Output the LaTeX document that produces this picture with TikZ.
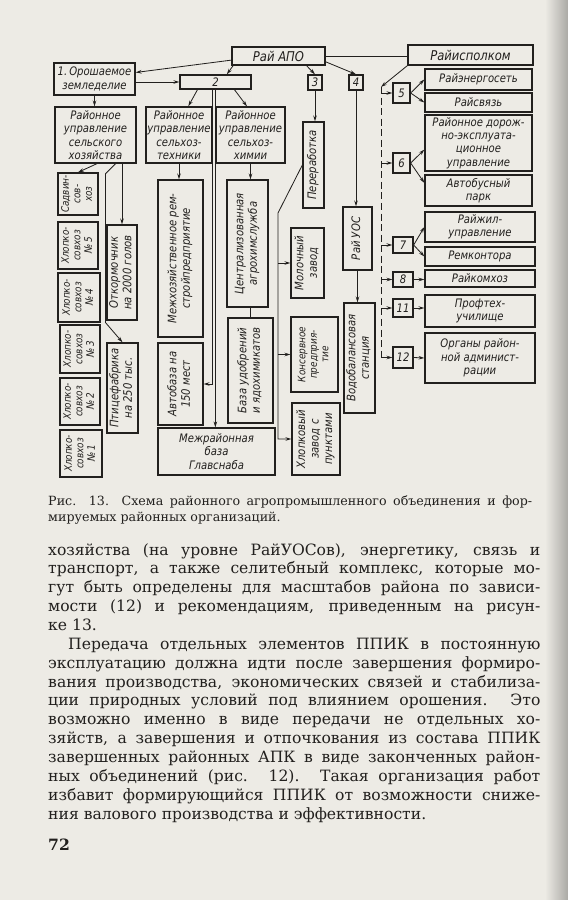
\documentclass[tikz,border=0pt]{standalone}
\usepackage{fontspec}
\setmainfont{DejaVu Serif}
\newfontfamily\dgfont{DejaVu Sans}[FakeStretch=0.86]
\usepackage{graphicx}
\usetikzlibrary{arrows.meta, calc}

\definecolor{paper}{RGB}{237,235,229}
\definecolor{ink}{RGB}{34,32,30}

% one pixel of the page
\newcommand\pxu{0.03cm}
% box between two corners, given in pixels
\newcommand\bx[7][]{\node[box,#1,minimum width={(#5-#3)*\pxu},minimum height={(#6-#4)*\pxu}] (#2) at ({(#3+#5)/2},{(#4+#6)/2}) {#7};}
% upright text for the tall boxes
\newcommand\vt[1]{\rotatebox{90}{\begin{tabular}{@{}c@{}}#1\end{tabular}}}

\begin{document}
\begin{tikzpicture}[
  x=0.03cm, y=-0.03cm,
  box/.style={draw=ink, line width=1.1pt, inner sep=1pt, align=center, text=ink, font={\dgfont\itshape\fontsize{10}{11.5}\selectfont}},
  smallfont/.style={font={\dgfont\itshape\fontsize{8.8}{9.8}\selectfont}},
  bigfont/.style={font={\dgfont\itshape\fontsize{11.5}{13}\selectfont}},
  line/.style={draw=ink, line width=0.7pt},
  arr/.style={line, -{Stealth[length=5pt,width=3pt]}},
  bus/.style={line, dash pattern=on 6pt off 3pt},
  bodytxt/.style={anchor=base west, inner sep=0pt, text=ink, font={\fontsize{13.3}{16}\selectfont}},
  captxt/.style={bodytxt, font={\fontsize{10.8}{13}\selectfont}}
]
  \useasboundingbox (0,0) rectangle (568,900);
  \fill[paper] (0,0) rectangle (568,900);
  \shade[left color=paper, right color=paper!72!black] (545,0) rectangle (568,900);

  % top level
  \bx[bigfont]{raiapo}{232}{47}{325}{65}{Рай АПО}
  \bx[bigfont]{ispolkom}{408}{45}{533}{65}{Райисполком}
  \bx{zem}{54}{63}{135}{95}{1.\,Орошаемое\\земледелие}
  \bx{n2}{180}{75}{251}{89}{2}
  \bx{n3}{308}{75}{322}{90}{3}
  \bx{n4}{349}{75}{363}{90}{4}

  % managements
  \bx{rusx}{55}{107}{136}{163}{Районное\\управление\\сельского\\хозяйства}
  \bx{rutech}{146}{107}{212}{163}{Районное\\управление\\сельхоз-\\техники}
  \bx{ruchem}{216}{107}{285}{163}{Районное\\управление\\сельхоз-\\химии}

  % farms
  \bx[smallfont]{sadvin}{58}{173}{98}{215}{\vt{Садвин-\\сов-\\хоз}}
  \bx[smallfont]{hs5}{58}{222}{98}{269}{\vt{Хлопко-\\совхоз\\№\,5}}
  \bx[smallfont]{hs4}{58}{273}{100}{322}{\vt{Хлопко-\\совхоз\\№\,4}}
  \bx[smallfont]{hs3}{60}{325}{100}{373}{\vt{Хлопко-\\совхоз\\№\,3}}
  \bx[smallfont]{hs2}{60}{378}{100}{425}{\vt{Хлопко-\\совхоз\\№\,2}}
  \bx[smallfont]{hs1}{60}{430}{102}{477}{\vt{Хлопко-\\совхоз\\№\,1}}
  \bx{otkorm}{107}{225}{137}{320}{\vt{Откормочник\\на 2000 голов}}
  \bx{ptica}{107}{343}{138}{433}{\vt{Птицефабрика\\на 250 тыс.}}

  \bx{remstroy}{158}{180}{203}{337}{\vt{Межхозяйственное рем-\\стройпредприятие}}
  \bx{avtobaza}{158}{343}{203}{425}{\vt{Автобаза на\\150 мест}}
  \bx{glavsnab}{158}{428}{275}{475}{Межрайонная\\база\\Главснаба}
  \bx{agrochem}{227}{180}{268}{307}{\vt{Централизованная\\агрохимслужба}}
  \bx{udobr}{228}{318}{273}{423}{\vt{База удобрений\\и ядохимикатов}}

  % processing
  \bx{pererab}{303}{122}{324}{208}{\vt{Переработка}}
  \bx{moloko}{291}{228}{324}{298}{\vt{Молочный\\завод}}
  \bx[smallfont]{konserv}{291}{317}{338}{392}{\vt{Консервное\\предприя-\\тие}}
  \bx{hlopzavod}{292}{403}{340}{475}{\vt{Хлопковый\\завод с\\пунктами}}
  \bx{raiuos}{343}{207}{372}{270}{\vt{Рай УОС}}
  \bx{vodobal}{344}{303}{375}{413}{\vt{Водобалансовая\\станция}}

  % district bodies
  \bx{n5}{393}{83}{410}{103}{5}
  \bx{n6}{393}{153}{410}{173}{6}
  \bx{n7}{393}{237}{413}{253}{7}
  \bx{n8}{393}{272}{413}{287}{8}
  \bx{n11}{393}{299}{413}{317}{11}
  \bx{n12}{393}{347}{413}{368}{12}
  \bx{energo}{425}{69}{532}{90}{Райэнергосеть}
  \bx{svyaz}{425}{93}{532}{112}{Райсвязь}
  \bx{doroga}{425}{115}{532}{171}{Районное дорож-\\но-эксплуата-\\ционное\\управление}
  \bx{avtobus}{425}{175}{532}{206}{Автобусный\\парк}
  \bx{zhil}{425}{212}{535}{242}{Райжил-\\управление}
  \bx{remkont}{425}{247}{535}{266}{Ремконтора}
  \bx{komhoz}{425}{270}{535}{287}{Райкомхоз}
  \bx{proftech}{425}{295}{535}{327}{Профтех-\\училище}
  \bx{organy}{425}{333}{535}{383}{Органы район-\\ной админист-\\рации}

  % connectors from Rai APO
  \draw[line] (raiapo.east) -- (raiapo.east -| ispolkom.west);
  \draw[arr] (raiapo.185) -- (zem.9);
  \draw[arr] (raiapo.192) -- (n2.34);
  \draw[arr] (raiapo.-19) -- (n3.north);
  \draw[arr] (raiapo.-7) -- (n4.north);
  \draw[arr] (zem.east |- n2.west) -- (n2.west);
  \draw[arr] (zem.south) -- (zem.south |- rusx.north);

  % block 2
  \draw[arr] (n2.203) -- (rutech.72);
  \draw[arr] (n2.-22) -- (ruchem.97);
  \draw[arr] (n2.south -| rutech.east) -- (rutech.east |- avtobaza.east) -- (avtobaza.east);
  \draw[arr] (n2.south -| ruchem.west) -- (ruchem.west |- glavsnab.north);
  \draw[arr] (rutech.south) -- (rutech.south |- remstroy.north);
  \draw[arr] (ruchem.south) -- (ruchem.south |- agrochem.north);
  \draw[line] (udobr.north) -- (udobr.north |- agrochem.south);

  % farming
  \draw[arr] (rusx.-87) -- (sadvin.north);
  \draw[arr] (otkorm.north |- rusx.south) -- (otkorm.north);
  \draw[arr] (rusx.-55) -- ++(-10,10) -- ++(0,149) -- (ptica.north);

  % processing
  \coordinate (pbus) at (278,213);
  \draw[arr] (n3.south) -- (n3.south |- pererab.north);
  \draw[arr] (pererab.west) -- (pbus) |- (hlopzavod.west);
  \draw[arr] (pbus |- moloko.west) -- (moloko.west);
  \draw[arr] (pbus |- konserv.west) -- (konserv.west);
  \draw[arr] (n4.south) -- (n4.south |- raiuos.north);
  \draw[arr] (raiuos.south) -- (raiuos.south |- vodobal.north);

  % Raiispolkom
  \coordinate (ibus) at (381,87);
  \draw[arr] (ispolkom.south west) -- (ibus);
  \draw[bus] (ibus) -- (ibus |- n12.west);
  \foreach \n in {n5,n6,n7,n8,n11,n12}
    \draw[arr] (ibus |- \n.west) -- (\n.west);
  \draw[arr] (n5.east) -- (energo.west);
  \draw[arr] (n5.east) -- (svyaz.west);
  \draw[arr] (n6.east) -- (doroga.187);
  \draw[arr] (n6.east) -- (avtobus.172);
  \draw[arr] (n7.east) -- (zhil.west);
  \draw[arr] (n7.east) -- (remkont.west);
  \draw[arr] (n8.east) -- (n8.east -| komhoz.west);
  \draw[arr] (n11.east) -- (n11.east -| proftech.west);
  \draw[arr] (n12.east) -- (organy.west);

  % caption and page text
  \node[captxt] (cap1) at (48,505) {\makebox[413pt][s]{Рис. 13. Схема районного агропромышленного объединения и фор-}};
  \node[captxt] (cap2) at (48,521) {мируемых районных организаций.};

  \node[bodytxt] (l1) at (48,555) {\makebox[420pt][s]{хозяйства (на уровне РайУОСов), энергетику, связь и}};
  \node[bodytxt] (l2) at (48,573.9) {\makebox[420pt][s]{транспорт, а также селитебный комплекс, которые мо-}};
  \node[bodytxt] (l3) at (48,592.7) {\makebox[420pt][s]{гут быть определены для масштабов района по зависи-}};
  \node[bodytxt] (l4) at (48,611.6) {\makebox[420pt][s]{мости (12) и рекомендациям, приведенным на рисун-}};
  \node[bodytxt] (l5) at (48,630.4) {ке 13.};
  \node[bodytxt] (l6) at (68,649.3) {\makebox[403pt][s]{Передача отдельных элементов ППИК в постоянную}};
  \node[bodytxt] (l7) at (48,668.2) {\makebox[420pt][s]{эксплуатацию должна идти после завершения формиро-}};
  \node[bodytxt] (l8) at (48,687) {\makebox[420pt][s]{вания производства, экономических связей и стабилиза-}};
  \node[bodytxt] (l9) at (48,705.9) {\makebox[420pt][s]{ции природных условий под влиянием орошения. Это}};
  \node[bodytxt] (l10) at (48,724.7) {\makebox[420pt][s]{возможно именно в виде передачи не отдельных хо-}};
  \node[bodytxt] (l11) at (48,743.6) {\makebox[420pt][s]{зяйств, а завершения и отпочкования из состава ППИК}};
  \node[bodytxt] (l12) at (48,762.5) {\makebox[420pt][s]{завершенных районных АПК в виде законченных район-}};
  \node[bodytxt] (l13) at (48,781.3) {\makebox[420pt][s]{ных объединений (рис. 12). Такая организация работ}};
  \node[bodytxt] (l14) at (48,800.2) {\makebox[420pt][s]{избавит формирующийся ППИК от возможности сниже-}};
  \node[bodytxt] (l15) at (48,819) {ния валового производства и эффективности.};

  \node[bodytxt, font={\bfseries\fontsize{13.3}{16}\selectfont}] (pnum) at (48,850) {72};
\end{tikzpicture}
\end{document}
